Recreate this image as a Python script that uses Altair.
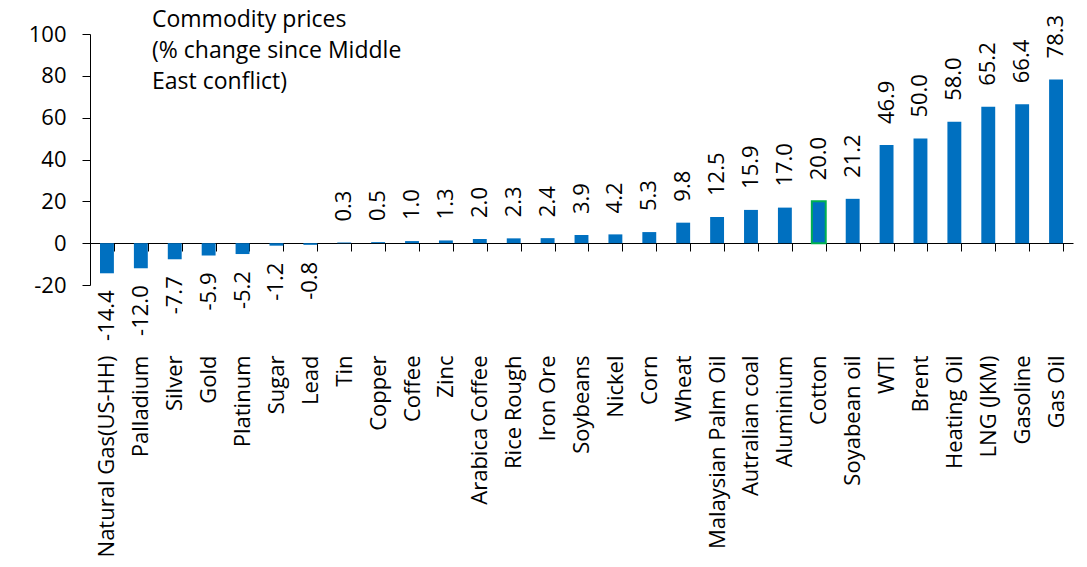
import altair as alt
import pandas as pd

names = [
    "Natural Gas(US-HH)", "Palladium", "Silver", "Gold", "Platinum", "Sugar", "Lead",
    "Tin", "Copper", "Coffee", "Zinc", "Arabica Coffee", "Rice Rough", "Iron Ore",
    "Soybeans", "Nickel", "Corn", "Wheat", "Malaysian Palm Oil", "Autralian coal",
    "Aluminium", "Cotton", "Soyabean oil", "WTI", "Brent", "Heating Oil", "LNG (JKM)",
    "Gasoline", "Gas Oil",
]
values = [
    -14.4, -12.0, -7.7, -5.9, -5.2, -1.2, -0.8,
    0.3, 0.5, 1.0, 1.3, 2.0, 2.3, 2.4,
    3.9, 4.2, 5.3, 9.8, 12.5, 15.9,
    17.0, 20.0, 21.2, 46.9, 50.0, 58.0, 65.2,
    66.4, 78.3,
]
y_ticks = [-20, 0, 20, 40, 60, 80, 100]
title_lines = ["Commodity prices", "(% change since Middle", "East conflict)"]

df = pd.DataFrame({"name": names, "value": values})
df["label"] = [f"{v:.1f}" for v in values]

FONT = "Open Sans"
FS = 22

x_enc = alt.X(
    "name:N",
    sort=names,
    scale=alt.Scale(paddingInner=0.59, paddingOuter=0.295),
    axis=alt.Axis(
        title=None, labelAngle=270, labelFontSize=FS, labelFont=FONT, labelColor="black",
        offset=-42, tickBand="extent", tickSize=8, labelPadding=104,
        domainColor="black", tickColor="black", labelLimit=0, labelOverlap=False,
    ),
)
y_enc = alt.Y(
    "value:Q",
    scale=alt.Scale(domain=[-20, 100], nice=False),
    axis=alt.Axis(
        title=None, values=y_ticks, tickSize=8, labelPadding=16, grid=False,
        domainColor="black", tickColor="black", labelFontSize=FS, labelFont=FONT,
        labelColor="black", labelExpr="'' + datum.value",
    ),
)

base = alt.Chart(df)

bars = base.mark_bar(color="#0070C0").encode(
    x=x_enc,
    y=y_enc,
    stroke=alt.condition(alt.datum.name == "Cotton", alt.value("#00B050"), alt.value("transparent")),
    strokeWidth=alt.condition(alt.datum.name == "Cotton", alt.value(2), alt.value(0)),
)

pos_labels = base.transform_filter("datum.value >= 0").mark_text(
    angle=270, align="left", baseline="middle", dx=21, fontSize=FS, font=FONT, color="black"
).encode(x=alt.X("name:N", sort=names), y="value:Q", text="label:N")

neg_labels = base.transform_filter("datum.value < 0").mark_text(
    angle=270, align="right", baseline="middle", dx=-17, fontSize=FS, font=FONT, color="black"
).encode(x=alt.X("name:N", sort=names), y="value:Q", text="label:N")

chart = (
    alt.layer(bars, pos_labels, neg_labels)
    .properties(
        width=983,
        height=251,
        padding={"left": 20, "top": 0, "right": 5, "bottom": 0},
        title=alt.TitleParams(
            title_lines, anchor="start", frame="group", fontSize=23, font=FONT,
            fontWeight="normal", color="black", dx=62, dy=83, lineHeight=31,
        ),
    )
    .configure_view(stroke=None)
)

chart.save("out.html", embed_options={"renderer": "svg", "actions": False})
